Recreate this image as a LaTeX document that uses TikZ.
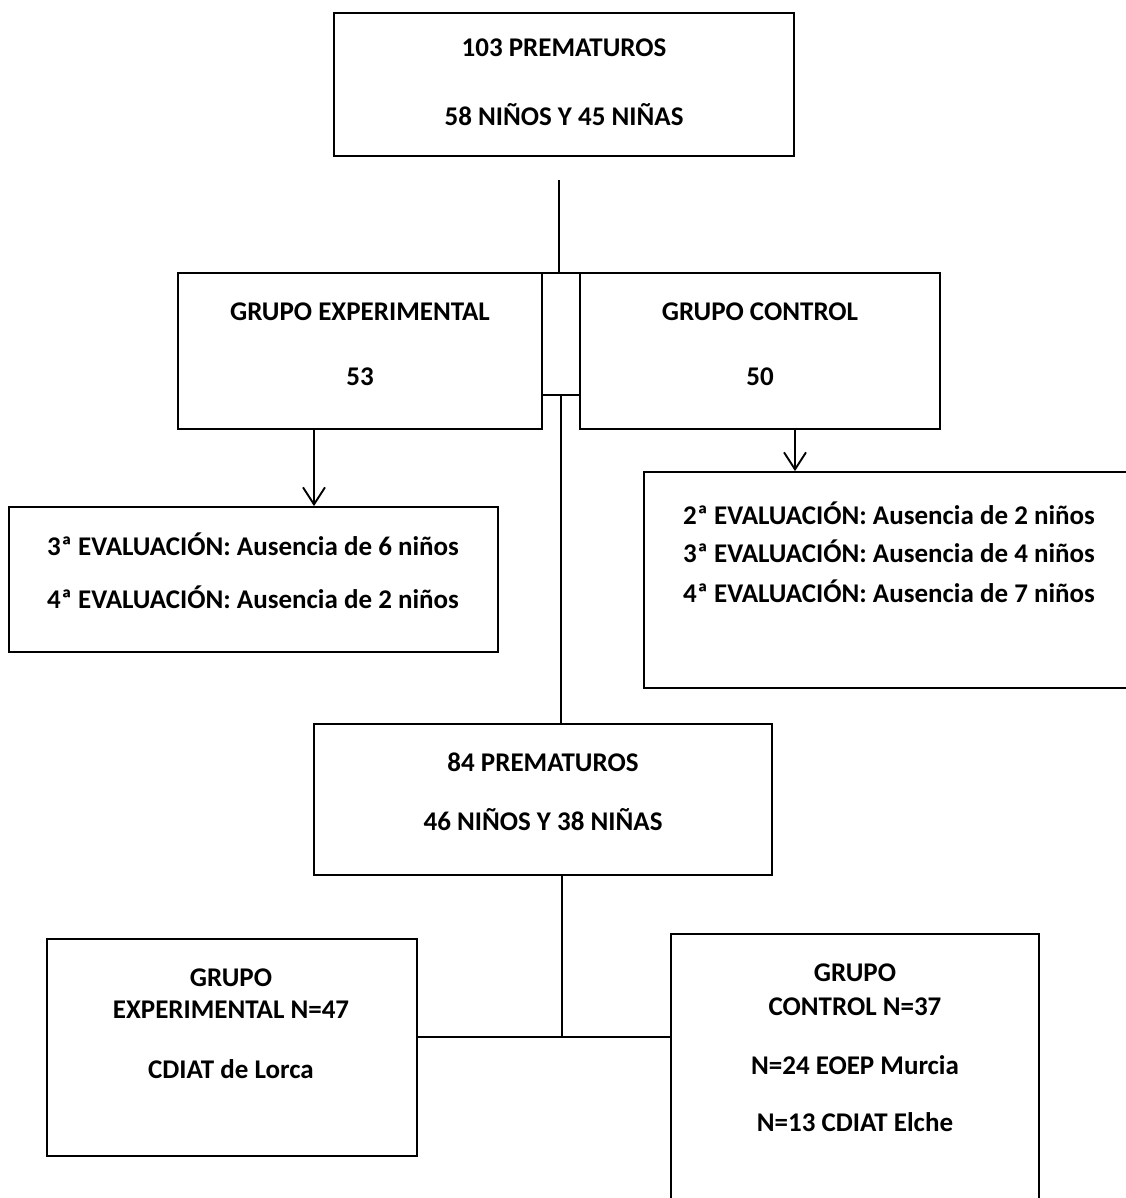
\documentclass[tikz,border=0pt]{standalone}
\usepackage{fontspec}
\setmainfont{Carlito}
\usetikzlibrary{arrows.meta}

\tikzset{
    box/.style={draw, line width=1.8pt, inner sep=0pt},
    txt/.style={align=center, inner sep=0pt, font=\bfseries\fontsize{27}{33}\selectfont},
    link/.style={line width=1.9pt},
    arr/.style={link, -{Straight Barb[length=17pt, width=22pt]}}
}

\begin{document}
\begin{tikzpicture}[x=1pt, y=-1pt]

    \useasboundingbox (0,0) rectangle (1125,1198);

    % Boxes
    \node[box, minimum width=460pt, minimum height=143pt] (top) at (564, 84.5) {};
    \node[box, minimum width=364pt, minimum height=156pt] (ge) at (360, 351) {};
    \node[box, minimum width=38pt, minimum height=122pt] (mid) at (561, 334) {};
    \node[box, minimum width=360pt, minimum height=156pt] (gc) at (760, 351) {};
    \node[box, minimum width=489pt, minimum height=145pt] (evalL) at (253.5, 579.5) {};
    \node[box, minimum width=490pt, minimum height=216pt] (evalR) at (889, 580) {};
    \node[box, minimum width=458pt, minimum height=151pt] (total) at (543, 799.5) {};
    \node[box, minimum width=370pt, minimum height=217pt] (finL) at (232, 1047.5) {};
    \node[box, minimum width=368pt, minimum height=276pt] (finR) at (855, 1072) {};

    % Texts
    \node[txt] (t-top) at (564, 82) {103 PREMATUROS\\[36pt]58 NIÑOS Y 45 NIÑAS};
    \node[txt] (t-ge) at (360, 344) {GRUPO EXPERIMENTAL\\[32pt]53};
    \node[txt] (t-gc) at (760, 344) {GRUPO CONTROL\\[32pt]50};
    \node[txt] (t-evalL) at (253, 571) {3ª EVALUACIÓN: Ausencia de 6 niños\\[20pt]4ª EVALUACIÓN: Ausencia de 2 niños};
    \node[txt] (t-evalR) at (889, 552) {2ª EVALUACIÓN: Ausencia de 2 niños\\[5pt]3ª EVALUACIÓN: Ausencia de 4 niños\\[7pt]4ª EVALUACIÓN: Ausencia de 7 niños};
    \node[txt] (t-total) at (543, 792) {84 PREMATUROS\\[26pt]46 NIÑOS Y 38 NIÑAS};
    \node[txt] (t-finL) at (231, 1024) {GRUPO\\[-1pt]EXPERIMENTAL N=47\\[27pt]CDIAT de Lorca};
    \node[txt] (t-finR) at (855, 1048) {GRUPO\\[1pt]CONTROL N=37\\[26pt]N=24 EOEP Murcia\\[24pt]N=13 CDIAT Elche};

    % Connectors
    \coordinate (split) at (559, 180);
    \coordinate (join) at (562, 1037);
    \draw[link] (split) -- (split |- mid.north);
    \draw[link] (mid.south) -- (mid.south |- total.north);
    \draw[arr] ([xshift=-46pt]ge.south) -- ([xshift=-46pt]ge.south |- evalL.north);
    \draw[arr] ([xshift=35pt]gc.south) -- ([xshift=35pt]gc.south |- evalR.north);
    \draw[link] (join |- total.south) -- (join);
    \draw[link] (finL.east |- join) -- (finR.west |- join);

\end{tikzpicture}
\end{document}
